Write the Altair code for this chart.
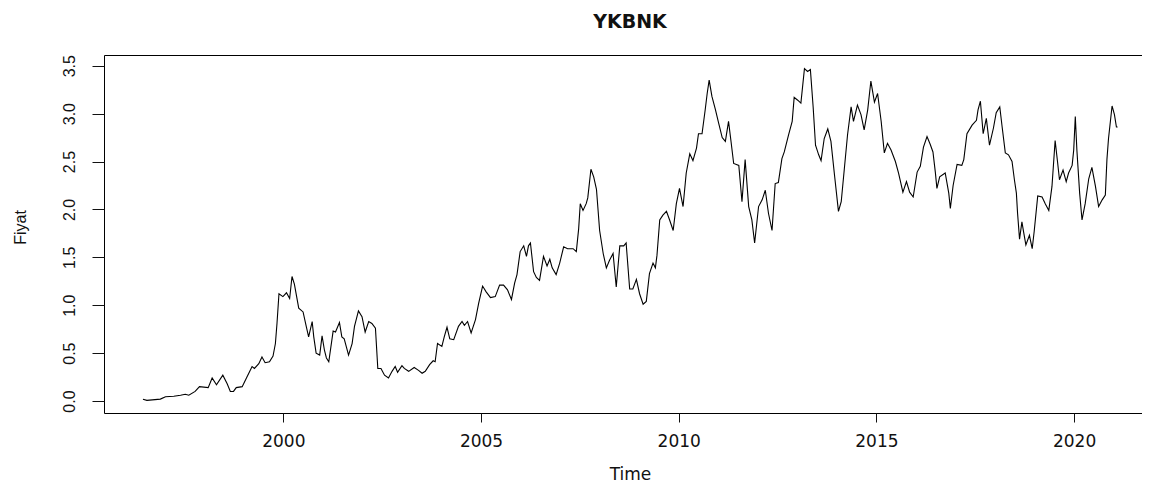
import altair as alt
import pandas as pd

# Time (decimal years) and price values
years = [
    1996.45, 1996.55, 1996.89, 1997.02, 1997.23, 1997.40, 1997.52, 1997.61, 1997.77, 1997.88,
    1998.10, 1998.20, 1998.31, 1998.47, 1998.58, 1998.66, 1998.74, 1998.81, 1998.96, 1999.08,
    1999.21, 1999.27, 1999.38, 1999.46, 1999.54, 1999.65, 1999.74, 1999.80, 1999.84, 1999.89,
    1999.99, 2000.08, 2000.16, 2000.22, 2000.28, 2000.39, 2000.50, 2000.58, 2000.64, 2000.73,
    2000.77, 2000.83, 2000.92, 2000.98, 2001.04, 2001.09, 2001.15, 2001.26, 2001.32, 2001.42,
    2001.48, 2001.54, 2001.65, 2001.74, 2001.80, 2001.90, 2001.99, 2002.07, 2002.16, 2002.24,
    2002.33, 2002.39, 2002.47, 2002.56, 2002.66, 2002.75, 2002.83, 2002.89, 2003.00, 2003.06,
    2003.17, 2003.31, 2003.42, 2003.51, 2003.59, 2003.70, 2003.79, 2003.84, 2003.90, 2004.01,
    2004.07, 2004.14, 2004.21, 2004.31, 2004.43, 2004.52, 2004.58, 2004.66, 2004.75, 2004.86,
    2004.94, 2005.04, 2005.13, 2005.24, 2005.36, 2005.47, 2005.57, 2005.67, 2005.77, 2005.85,
    2005.91, 2005.99, 2006.08, 2006.15, 2006.20, 2006.25, 2006.33, 2006.40, 2006.48, 2006.58,
    2006.67, 2006.74, 2006.80, 2006.90, 2006.99, 2007.09, 2007.19, 2007.33, 2007.41, 2007.47,
    2007.51, 2007.58, 2007.66, 2007.70, 2007.78, 2007.85, 2007.92, 2008.00, 2008.09, 2008.17,
    2008.25, 2008.34, 2008.42, 2008.51, 2008.61, 2008.67, 2008.76, 2008.84, 2008.93, 2009.01,
    2009.10, 2009.18, 2009.26, 2009.35, 2009.41, 2009.45, 2009.52, 2009.60, 2009.69, 2009.77,
    2009.86, 2009.94, 2010.02, 2010.11, 2010.19, 2010.28, 2010.36, 2010.45, 2010.50, 2010.59,
    2010.67, 2010.72, 2010.77, 2010.84, 2010.93, 2011.01, 2011.10, 2011.18, 2011.26, 2011.32,
    2011.39, 2011.52, 2011.60, 2011.68, 2011.77, 2011.85, 2011.92, 2012.02, 2012.11, 2012.19,
    2012.27, 2012.36, 2012.44, 2012.52, 2012.61, 2012.67, 2012.78, 2012.87, 2012.92, 2013.01,
    2013.09, 2013.18, 2013.26, 2013.33, 2013.40, 2013.46, 2013.54, 2013.60, 2013.68, 2013.77,
    2013.85, 2013.94, 2014.04, 2014.11, 2014.19, 2014.27, 2014.36, 2014.42, 2014.52, 2014.61,
    2014.69, 2014.78, 2014.86, 2014.95, 2015.03, 2015.12, 2015.20, 2015.28, 2015.37, 2015.48,
    2015.56, 2015.67, 2015.76, 2015.84, 2015.93, 2016.03, 2016.11, 2016.19, 2016.28, 2016.36,
    2016.43, 2016.49, 2016.53, 2016.60, 2016.74, 2016.83, 2016.87, 2016.94, 2017.04, 2017.16,
    2017.21, 2017.29, 2017.42, 2017.53, 2017.57, 2017.63, 2017.70, 2017.78, 2017.86, 2017.96,
    2018.03, 2018.12, 2018.18, 2018.26, 2018.34, 2018.43, 2018.49, 2018.54, 2018.57, 2018.62,
    2018.68, 2018.72, 2018.78, 2018.87, 2018.94, 2018.99, 2019.08, 2019.19, 2019.27, 2019.36,
    2019.44, 2019.52, 2019.58, 2019.63, 2019.72, 2019.80, 2019.86, 2019.95, 2019.99, 2020.03,
    2020.07, 2020.14, 2020.20, 2020.28, 2020.37, 2020.45, 2020.54, 2020.62, 2020.71, 2020.79,
    2020.83, 2020.87, 2020.96, 2021.02, 2021.07, 2021.10,
]

prices = [
    0.018, 0.007, 0.02, 0.045, 0.05, 0.06, 0.07, 0.06, 0.10, 0.15,
    0.14, 0.24, 0.17, 0.27, 0.18, 0.10, 0.10, 0.14, 0.15, 0.25,
    0.36, 0.34, 0.39, 0.46, 0.40, 0.41, 0.47, 0.60, 0.81, 1.12,
    1.09, 1.13, 1.07, 1.30, 1.22, 0.97, 0.93, 0.78, 0.67, 0.83,
    0.67, 0.50, 0.48, 0.68, 0.53, 0.45, 0.41, 0.73, 0.72, 0.82,
    0.67, 0.65, 0.48, 0.60, 0.78, 0.94, 0.88, 0.72, 0.83, 0.81,
    0.76, 0.34, 0.34, 0.27, 0.24, 0.31, 0.36, 0.30, 0.37, 0.34,
    0.31, 0.35, 0.32, 0.29, 0.31, 0.38, 0.42, 0.41, 0.60, 0.57,
    0.67, 0.77, 0.65, 0.64, 0.78, 0.83, 0.79, 0.83, 0.71, 0.85,
    1.02, 1.20, 1.14, 1.08, 1.09, 1.21, 1.21, 1.16, 1.06, 1.23,
    1.32, 1.56, 1.62, 1.51, 1.62, 1.65, 1.35, 1.29, 1.26, 1.51,
    1.41, 1.48, 1.39, 1.32, 1.44, 1.61, 1.59, 1.59, 1.56, 1.80,
    2.06, 1.99, 2.06, 2.12, 2.42, 2.34, 2.21, 1.78, 1.54, 1.39,
    1.47, 1.54, 1.19, 1.62, 1.62, 1.65, 1.17, 1.17, 1.27, 1.12,
    1.01, 1.04, 1.33, 1.44, 1.39, 1.52, 1.89, 1.94, 1.98, 1.89,
    1.78, 2.06, 2.22, 2.03, 2.38, 2.58, 2.51, 2.64, 2.79, 2.79,
    3.04, 3.21, 3.35, 3.18, 3.04, 2.90, 2.75, 2.71, 2.92, 2.72,
    2.48, 2.46, 2.08, 2.52, 2.03, 1.89, 1.65, 2.03, 2.10, 2.20,
    1.96, 1.78, 2.27, 2.28, 2.53, 2.60, 2.78, 2.92, 3.17, 3.14,
    3.11, 3.47, 3.44, 3.46, 3.07, 2.67, 2.57, 2.51, 2.74, 2.84,
    2.71, 2.36, 1.98, 2.08, 2.43, 2.78, 3.07, 2.92, 3.09, 2.99,
    2.83, 3.04, 3.34, 3.12, 3.21, 2.92, 2.59, 2.69, 2.62, 2.50,
    2.38, 2.18, 2.29, 2.18, 2.13, 2.39, 2.45, 2.65, 2.76, 2.68,
    2.60, 2.39, 2.22, 2.34, 2.38, 2.17, 2.01, 2.25, 2.47, 2.46,
    2.52, 2.79, 2.88, 2.93, 3.04, 3.13, 2.79, 2.95, 2.67, 2.85,
    3.01, 3.07, 2.86, 2.59, 2.57, 2.50, 2.31, 2.17, 1.96, 1.69,
    1.87, 1.77, 1.63, 1.73, 1.59, 1.77, 2.14, 2.13, 2.06, 1.99,
    2.24, 2.72, 2.50, 2.31, 2.41, 2.29, 2.38, 2.46, 2.62, 2.97,
    2.62, 2.17, 1.89, 2.06, 2.32, 2.44, 2.24, 2.03, 2.10, 2.15,
    2.52, 2.74, 3.08, 2.99, 2.86, 2.86,
]

x_ticks = [2000, 2005, 2010, 2015, 2020]
y_ticks = [0.0, 0.5, 1.0, 1.5, 2.0, 2.5, 3.0, 3.5]

df = pd.DataFrame({"year": years, "price": prices})

chart = (
    alt.Chart(df)
    .mark_line(color="black", strokeWidth=1.1)
    .encode(
        x=alt.X(
            "year:Q",
            scale=alt.Scale(domain=[1995.465, 2021.717], nice=False, zero=False),
            axis=alt.Axis(
                values=x_ticks,
                format="d",
                title="Time",
                labelFont="DejaVu Sans",
                labelFontSize=17,
                labelColor="#111",
                labelPadding=11,
                labelFlush=False,
                tickSize=9,
                tickColor="#111",
                tickWidth=1,
                titleFont="DejaVu Sans",
                titleFontSize=17,
                titleFontWeight="normal",
                titleColor="#111",
                titleX=526,
                titleY=61,
                titleAlign="center",
                titleBaseline="middle",
            ),
        ),
        y=alt.Y(
            "price:Q",
            scale=alt.Scale(domain=[-0.125, 3.612], nice=False, zero=False),
            axis=alt.Axis(
                values=y_ticks,
                format=".1f",
                title="Fiyat",
                labelFont="Liberation Sans",
                labelFontSize=16,
                labelColor="#111",
                labelAngle=270,
                labelAlign="center",
                labelBaseline="bottom",
                labelPadding=15,
                labelFlush=False,
                tickSize=12,
                tickColor="#111",
                tickWidth=1,
                titleFont="Liberation Sans",
                titleFontSize=16,
                titleFontWeight="normal",
                titleColor="#111",
                titleAngle=270,
                titleX=-84,
                titleY=172,
                titleAlign="center",
                titleBaseline="middle",
            ),
        ),
    )
    .properties(
        width=1038,
        height=358,
        padding={"left": 96, "top": 47, "right": 0, "bottom": 69},
        autosize=alt.AutoSizeParams(type="none"),
        background="white",
        title=alt.TitleParams(
            text="YKBNK",
            font="DejaVu Sans",
            fontSize=19,
            fontWeight="bold",
            color="#111",
            anchor="middle",
            frame="group",
            offset=23,
            dx=7,
        ),
    )
    .configure_view(stroke="black", strokeWidth=1)
    .configure_axis(grid=False, domain=False)
)

chart.save("out.html", embed_options={"renderer": "svg", "actions": False})
